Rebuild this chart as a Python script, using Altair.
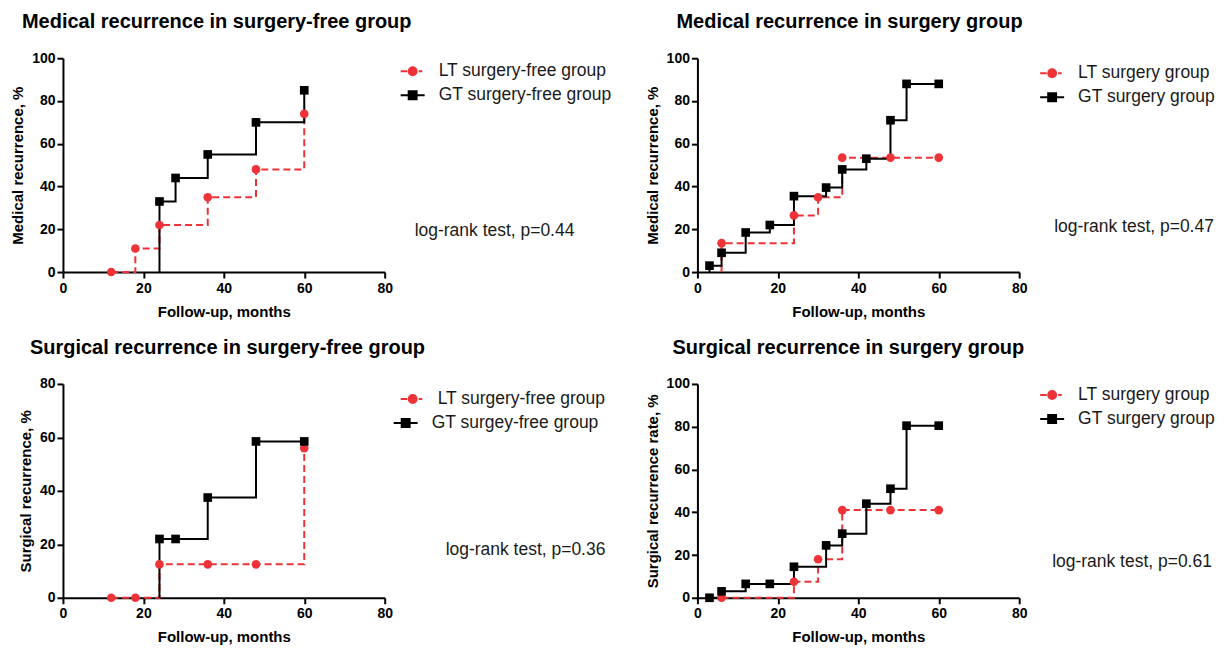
import altair as alt
import pandas as pd

RED = "#ee3338"
BLACK = "#000000"
FONT = "Liberation Sans"

# ---- data (months, % recurrence) ----
# Panel 1: Medical recurrence in surgery-free group
p1_lt_x = [12, 18, 24, 36, 48, 60]
p1_lt_y = [0, 11, 22, 35, 48, 74]
p1_gt_x = [24, 28, 36, 48, 60]
p1_gt_y = [33, 44, 55, 70, 85]

# Panel 2: Medical recurrence in surgery group
p2_lt_x = [6, 24, 30, 36, 48, 60]
p2_lt_y = [13.5, 26.5, 35, 53.5, 53.5, 53.5]
p2_gt_x = [3, 6, 12, 18, 24, 32, 36, 42, 48, 52, 60]
p2_gt_y = [3, 9, 18.5, 22, 35.5, 39.5, 48, 53, 71, 88, 88]

# Panel 3: Surgical recurrence in surgery-free group
p3_lt_x = [12, 18, 24, 36, 48, 60]
p3_lt_y = [0, 0, 12.5, 12.5, 12.5, 56]
p3_gt_x = [24, 28, 36, 48, 60]
p3_gt_y = [22, 22, 37.5, 58.5, 58.5]

# Panel 4: Surgical recurrence in surgery group
p4_lt_x = [6, 24, 30, 36, 48, 60]
p4_lt_y = [0, 7.5, 18, 41, 41, 41]
p4_gt_x = [3, 6, 12, 18, 24, 32, 36, 42, 48, 52, 60]
p4_gt_y = [0, 3, 6.5, 6.5, 14.5, 24.5, 30, 44, 51, 80.5, 80.5]

titles = [
    "Medical recurrence in surgery-free group",
    "Medical recurrence in surgery group",
    "Surgical recurrence in surgery-free group",
    "Surgical recurrence in surgery group",
]
y_titles = [
    "Medical recurrence, %",
    "Medical recurrence, %",
    "Surgical recurrence, %",
    "Surgical recurrence rate, %",
]
legend_names = [
    ["LT surgery-free group", "GT surgery-free group"],
    ["LT surgery group", "GT surgery group"],
    ["LT surgery-free group", "GT surgey-free group"],
    ["LT surgery group", "GT surgery group"],
]
p_texts = [
    "log-rank test, p=0.44",
    "log-rank test, p=0.47",
    "log-rank test, p=0.36",
    "log-rank test, p=0.61",
]
y_max = [100, 100, 80, 100]
x_ticks = [0, 20, 40, 60, 80]

# legend key glyphs: line through marker
LT_PATH = ("M-1,0H-0.45M0.5,0H0.8"
           "M0.33,0A0.33,0.33 0 1,1 -0.33,0A0.33,0.33 0 1,1 0.33,0Z")
GT_PATH = "M-1,0H1M-0.33,-0.33H0.33V0.33H-0.33Z"

W, H = 322, 214


def step_rows(name, xs, ys):
    rows = []
    if ys[0] > 0:
        rows.append({"grp": name, "x": xs[0], "y": 0, "i": -1})
    for i, (a, b) in enumerate(zip(xs, ys)):
        rows.append({"grp": name, "x": a, "y": b, "i": i})
    return rows


def key_entry(label, path, color, sx, sy, lx):
    d = pd.DataFrame({"label": [label]})
    sym = alt.Chart(d).mark_point(shape=path, size=576, filled=False, fill=color, stroke=color,
                                  strokeWidth=2, opacity=1).encode(
        x=alt.value(sx), y=alt.value(sy))
    lab = alt.Chart(d).mark_text(align="left", baseline="middle", font=FONT, fontSize=17.5,
                                 color="#1a1a1a").encode(
        x=alt.value(lx), y=alt.value(sy), text="label:N")
    return [sym, lab]


def panel(k, lt_x, lt_y, gt_x, gt_y, title_dx, keys, txt_x, txt_y):
    names = legend_names[k]
    lines = pd.DataFrame(step_rows(names[0], lt_x, lt_y) + step_rows(names[1], gt_x, gt_y))
    lt_pts = pd.DataFrame({"x": lt_x, "y": lt_y})
    gt_pts = pd.DataFrame({"x": gt_x, "y": gt_y})

    xenc = alt.X("x:Q", scale=alt.Scale(domain=[0, 80], nice=False),
                 axis=alt.Axis(values=x_ticks, title="Follow-up, months"))
    yenc = alt.Y("y:Q", scale=alt.Scale(domain=[0, y_max[k]], nice=False),
                 axis=alt.Axis(values=list(range(0, y_max[k] + 1, 20)), title=y_titles[k]))

    line = alt.Chart(lines).mark_line(interpolate="step-after", strokeWidth=2).encode(
        x=xenc, y=yenc,
        color=alt.Color("grp:N", scale=alt.Scale(domain=names, range=[RED, BLACK]), legend=None),
        strokeDash=alt.StrokeDash("grp:N", scale=alt.Scale(domain=names, range=[[7, 4], [1, 0]]), legend=None),
        order=alt.Order("i:Q"),
    )
    lt_m = alt.Chart(lt_pts).mark_circle(size=75, color=RED, opacity=1).encode(x="x:Q", y="y:Q")
    gt_m = alt.Chart(gt_pts).mark_square(size=75, color=BLACK, opacity=1).encode(x="x:Q", y="y:Q")

    (r_sx, r_sy, r_lx), (b_sx, b_sy, b_lx) = keys
    key_layers = (key_entry(names[0], LT_PATH, RED, r_sx, r_sy, r_lx)
                  + key_entry(names[1], GT_PATH, BLACK, b_sx, b_sy, b_lx))

    txt = alt.Chart(pd.DataFrame({"t": [p_texts[k]]})).mark_text(
        align="left", baseline="middle", font=FONT, fontSize=17.5, color="#1a1a1a"
    ).encode(x=alt.value(txt_x), y=alt.value(txt_y), text="t:N")

    return alt.layer(line, lt_m, gt_m, *key_layers, txt).properties(
        width=W, height=H,
        title=alt.TitleParams(titles[k], anchor="start", frame="group", dx=title_dx,
                              font=FONT, fontSize=20, fontWeight="bold", color=BLACK, offset=19),
    )


c1 = panel(0, p1_lt_x, p1_lt_y, p1_gt_x, p1_gt_y, -41,
           [(350, 13, 376), (350, 37, 376)], 352, 173)
c2 = panel(1, p2_lt_x, p2_lt_y, p2_gt_x, p2_gt_y, -21,
           [(355, 15, 381), (355, 39, 381)], 357, 169)
c3 = panel(2, p3_lt_x, p3_lt_y, p3_gt_x, p3_gt_y, -33,
           [(350, 15, 375), (343, 39, 369)], 383, 166)
c4 = panel(3, p4_lt_x, p4_lt_y, p4_gt_x, p4_gt_y, -25,
           [(355, 11, 381), (355, 35, 381)], 355, 178)

chart = alt.concat(c1, c2, c3, c4, columns=2,
                   spacing={"row": 112, "column": 313}, bounds="flush").resolve_scale(
    color="independent", strokeDash="independent",
).properties(
    padding={"left": 2, "top": 4, "right": 2, "bottom": 0}
).configure_view(stroke=None).configure_axis(
    domainColor=BLACK, domainWidth=2, tickColor=BLACK, tickWidth=2, tickSize=6,
    labelFont=FONT, labelFontSize=14, labelFontWeight="bold", labelColor=BLACK,
    labelFlush=False, labelOverlap=False, labelPadding=2,
    titleFont=FONT, titleFontSize=15, titleFontWeight="bold", titleColor=BLACK,
    grid=False,
).configure_axisX(titlePadding=9, labelPadding=3).configure_axisY(titlePadding=6)

chart.save("out.html", embed_options={"renderer": "svg", "actions": False})
